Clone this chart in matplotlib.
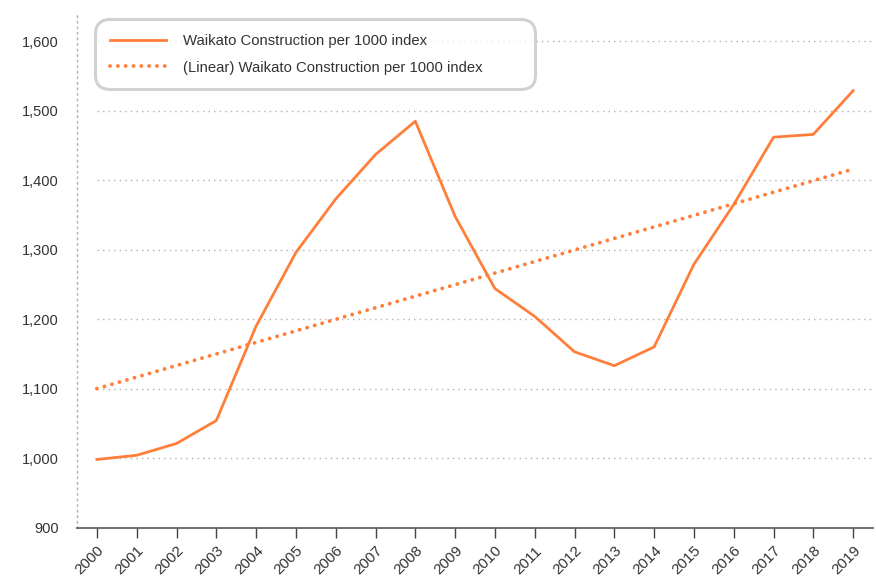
import numpy as np
import matplotlib.pyplot as plt

years = [str(y) for y in range(2000, 2020)]
index_values = [998, 1004, 1021, 1054, 1190, 1296, 1373, 1437, 1485, 1348,
                1244, 1204, 1153, 1133, 1160, 1279, 1365, 1462, 1466, 1529]
# linear trendline as shown on the chart (first and last year)
trend_ends = [1100, 1416]
y_ticks = [900, 1000, 1100, 1200, 1300, 1400, 1500, 1600]

series_label = 'Waikato Construction per 1000 index'
trend_label = '(Linear) Waikato Construction per 1000 index'

ORANGE = '#ff7f3a'
TEXT = '#333333'

plt.rcParams['font.family'] = ['Liberation Sans', 'DejaVu Sans']

fig = plt.figure(figsize=(8.76, 5.79), dpi=100)
ax = fig.add_axes([0.0879, 0.0889, 0.9087, 0.8901])

x = np.arange(len(years))
vals = np.array(index_values, dtype=float)
trend = np.interp(x, [x[0], x[-1]], trend_ends)

ax.set_xlim(-0.5, len(years) - 0.5)
ax.set_ylim(900, 1642)

# horizontal dotted gridlines start at the first category
for t in y_ticks[1:]:
    ax.plot([0, len(years) - 0.5], [t, t], color='#b0b0b0', lw=1,
            linestyle=(0, (1, 3)), zorder=1)

ax.plot(x, vals, color=ORANGE, lw=2.0, label=series_label, zorder=3)
ax.plot(x, trend, color=ORANGE, lw=2.8, linestyle=(0, (0.01, 2.0)),
        dash_capstyle='round', label=trend_label, zorder=3)

ax.set_yticks(y_ticks)
ax.set_yticklabels([f'{v:,}' for v in y_ticks])
ax.set_xticks(x)
ax.set_xticklabels(years, rotation=45, ha='right', rotation_mode='anchor')

ax.tick_params(axis='y', length=0, pad=13, labelsize=10.5, labelcolor=TEXT)
ax.tick_params(axis='x', length=7.5, width=1, color='#444444', pad=4,
               labelsize=11, labelcolor=TEXT)

for side in ['top', 'right']:
    ax.spines[side].set_visible(False)
ax.spines['left'].set_color('#b0b0b0')
ax.spines['left'].set_linestyle((0, (1, 3)))
ax.spines['left'].set_linewidth(1)
ax.spines['bottom'].set_color('#555555')
ax.spines['bottom'].set_linewidth(1.2)

leg = ax.legend(loc='upper left', bbox_to_anchor=(0.0227, 0.5, 0.553, 0.4865),
                mode='expand', borderaxespad=0, fontsize=10.7, handlelength=3.8,
                handletextpad=1.15, labelspacing=0.85, borderpad=1.0,
                frameon=True, fancybox=True)
frame = leg.get_frame()
frame.set_edgecolor('#c6c6c6')
frame.set_linewidth(2.2)
frame.set_boxstyle('round,pad=0,rounding_size=1.0')
for txt in leg.get_texts():
    txt.set_color(TEXT)

fig.savefig('out.png', dpi=100)
